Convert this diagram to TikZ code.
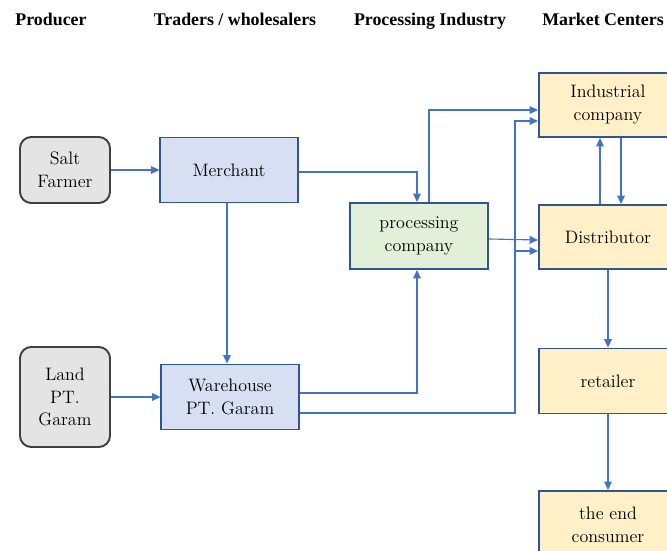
\documentclass[tikz,border=0pt]{standalone}
\usepackage{fontspec}
\setmainfont{Liberation Serif}
\newfontfamily\boxfont{Latin Modern Roman}
\usepackage{tikz}
\usetikzlibrary{arrows.meta, positioning}
\definecolor{linkblue}{HTML}{4472C4}
\definecolor{boxedge}{HTML}{2F5597}
\definecolor{farmedge}{HTML}{404040}
\definecolor{farmfill}{HTML}{E4E4E4}
\definecolor{tradefill}{HTML}{D6E0F2}
\definecolor{procfill}{HTML}{E2F0D9}
\definecolor{marketfill}{HTML}{FFF0C8}
\tikzset{
>={Triangle[length=6pt,width=5.5pt]}, % filled arrow heads
link/.style={->, draw=linkblue, line width=0.8pt}, % the connectors
basebox/.style={line width=1.4pt, align=center, inner sep=0pt, text=black,
  font=\boxfont\fontsize{12.8}{16.3}\selectfont},
farmbox/.style={basebox, draw=farmedge, fill=farmfill, rounded corners=8pt,
  minimum width=2.25cm, minimum height=1.65cm},
tradebox/.style={basebox, draw=boxedge, fill=tradefill, minimum width=3.425cm, minimum height=1.625cm},
procbox/.style={basebox, draw=boxedge, fill=procfill, minimum width=3.45cm, minimum height=1.65cm},
marketbox/.style={basebox, draw=boxedge, fill=marketfill, minimum width=3.45cm, minimum height=1.6cm},
headline/.style={anchor=base, font=\fontsize{12.7}{15}\selectfont\bfseries}, % column titles
}
\begin{document}
\begin{tikzpicture}[x=0.025cm, y=-0.025cm]
  \clip (0,0) rectangle (667,551);
  % column titles
  \node[headline] (hp) at (51,26) {Producer};
  \node[headline] (ht) at (235,26) {Traders / wholesalers};
  \node[headline] (hi) at (430,26) {Processing Industry};
  \node[headline] (hm) at (603,26) {Market Centers};

  \node[farmbox] (sf) at (65,170) {Salt\\Farmer};
  \node[farmbox, minimum height=2.5cm] (lg) at (65,397) {Land\\PT.\\Garam};
  \node[tradebox] (mc) at (229,170) {Merchant};
  \node[tradebox] (wh) at (230,397) {Warehouse\\PT. Garam};
  \node[procbox] (pc) at (419,236) {processing\\company};
  \node[marketbox] (ic) at (608,105) {Industrial\\company};
  \node[marketbox] (ds) at (608,237) {Distributor};
  \node[marketbox, minimum height=1.625cm] (rt) at (608,381) {retailer};
  \node[marketbox, minimum height=1.7cm] (ec) at (608,525) {the end\\consumer};
  \coordinate (up) at (515,121);
  \coordinate (split) at (515,251);

  \draw[link] (sf) -- (mc);
  \draw[link] (lg) -- (wh);
  \draw[link] ([xshift=-0.05cm]mc.south) -- ([xshift=-0.05cm]mc.south |- wh.north);
  \draw[link] ([yshift=-0.05cm]mc.east) -| ([xshift=-0.05cm]pc.north);
  \draw[link] ([yshift=0.1cm]wh.east) -| ([xshift=-0.05cm]pc.south);
  \draw[link] ([xshift=0.25cm]pc.north) |- ([yshift=-0.125cm]ic.west);
  \draw[link] ([yshift=-0.4cm]wh.east) -| (up) -- (up -| ic.west);
  \draw[link] (split) -- (split -| ds.west);
  \draw[link] ([yshift=-0.075cm]pc.east) -- ([yshift=-0.075cm]ds.west);
  \draw[link] ([xshift=-0.2cm]ds.north) -- ([xshift=-0.2cm]ic.south);
  \draw[link] ([xshift=0.325cm]ic.south) -- ([xshift=0.325cm]ds.north);
  \draw[link] (ds) -- (rt);
  \draw[link] (rt) -- (ec);
\end{tikzpicture}
\end{document}
